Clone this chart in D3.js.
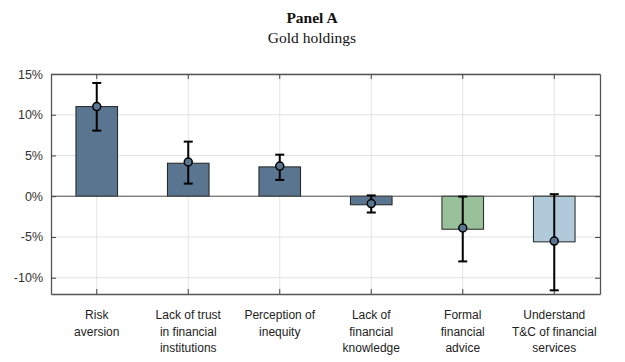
<!DOCTYPE html>
<html>
<head>
<meta charset="utf-8">
<script src="https://cdn.jsdelivr.net/npm/d3@7"></script>
<style>
  body { margin: 0; background: #fff; }
  svg { display: block; }
</style>
</head>
<body>
<div id="chart"></div>
<script>
// chart data (percent)
var categories = [
  ["Risk", "aversion"],
  ["Lack of trust", "in financial", "institutions"],
  ["Perception of", "inequity"],
  ["Lack of", "financial", "knowledge"],
  ["Formal", "financial", "advice"],
  ["Understand", "T&C of financial", "services"]
];
var barValues = [11.0, 4.05, 3.6, -1.05, -4.05, -5.6];
var pointValues = [11.0, 4.2, 3.7, -0.9, -3.9, -5.5];
var errLow = [8.05, 1.55, 2.0, -2.0, -8.0, -11.55];
var errHigh = [13.9, 6.7, 5.1, 0.1, -0.05, 0.25];
var barColors = ["#5a7590", "#5a7590", "#5a7590", "#5a7590", "#98c19a", "#b0cad9"];
var yTicks = [-10, -5, 0, 5, 10, 15];

var width = 625, height = 362;
var margin = { top: 74, right: 25, bottom: 68, left: 51 };
var plotW = width - margin.left - margin.right,
    plotH = height - margin.top - margin.bottom;

var svg = d3.select("#chart").append("svg")
    .attr("width", width)
    .attr("height", height);

// titles
svg.append("text")
    .attr("x", 312).attr("y", 23)
    .attr("text-anchor", "middle")
    .attr("font-family", "Liberation Serif, DejaVu Serif, serif")
    .attr("font-weight", "bold")
    .attr("font-size", "15.5px")
    .attr("fill", "#111")
    .text("Panel A");
svg.append("text")
    .attr("x", 312).attr("y", 43)
    .attr("text-anchor", "middle")
    .attr("font-family", "Liberation Serif, DejaVu Serif, serif")
    .attr("font-size", "15.5px")
    .attr("fill", "#111")
    .text("Gold holdings");

var g = svg.append("g")
    .attr("transform", "translate(" + margin.left + "," + margin.top + ")");

var x = d3.scaleBand()
    .domain(d3.range(categories.length))
    .range([0, plotW])
    .paddingInner(0.545)
    .paddingOuter(0.2725);

var y = d3.scaleLinear()
    .domain([-12, 15])
    .range([plotH, 0]);

var cx = function (i) { return x(i) + x.bandwidth() / 2; };

// gridlines
g.append("g").selectAll("line")
    .data(yTicks)
    .enter().append("line")
    .attr("x1", 0).attr("x2", plotW)
    .attr("y1", function (d) { return y(d); })
    .attr("y2", function (d) { return y(d); })
    .style("stroke", "#e3e3e3");
g.append("g").selectAll("line")
    .data(d3.range(categories.length))
    .enter().append("line")
    .attr("x1", cx).attr("x2", cx)
    .attr("y1", 0).attr("y2", plotH)
    .style("stroke", "#e3e3e3");

// bars
g.append("g").selectAll("rect")
    .data(barValues)
    .enter().append("rect")
    .attr("x", function (d, i) { return x(i); })
    .attr("y", function (d) { return y(Math.max(0, d)); })
    .attr("width", x.bandwidth())
    .attr("height", function (d) { return Math.abs(y(d) - y(0)); })
    .attr("fill", function (d, i) { return barColors[i]; })
    .style("stroke", "#222")
    .style("stroke-width", 1);

// zero line
g.append("line")
    .attr("x1", 0).attr("x2", plotW)
    .attr("y1", y(0)).attr("y2", y(0))
    .style("stroke", "#555");

// axes: ticks inside frame, MATLAB style
var axisL = g.append("g")
    .call(d3.axisLeft(y).tickValues(yTicks).tickFormat(function (d) { return d + "%"; }).tickSizeInner(-5).tickSizeOuter(0).tickPadding(8));
var axisR = g.append("g")
    .attr("transform", "translate(" + plotW + ",0)")
    .call(d3.axisRight(y).tickValues(yTicks).tickFormat("").tickSizeInner(-5).tickSizeOuter(0));
var axisB = g.append("g")
    .attr("transform", "translate(0," + plotH + ")")
    .call(d3.axisBottom(x).tickFormat("").tickSizeInner(-5).tickSizeOuter(0));
var axisT = g.append("g")
    .call(d3.axisTop(x).tickFormat("").tickSizeInner(-5).tickSizeOuter(0));

[axisL, axisR, axisB, axisT].forEach(function (a) {
    a.select(".domain").style("stroke", "#555").style("stroke-width", 1.3);
    a.selectAll(".tick line").style("stroke", "#444");
});
axisL.selectAll("text")
    .style("fill", "#333")
    .attr("font-size", "12.5px")
    .attr("font-family", "Liberation Sans, Arial, sans-serif");

// error bars
var err = g.append("g").selectAll("g")
    .data(pointValues)
    .enter().append("g");
err.append("line")
    .attr("x1", function (d, i) { return cx(i); })
    .attr("x2", function (d, i) { return cx(i); })
    .attr("y1", function (d, i) { return y(errLow[i]); })
    .attr("y2", function (d, i) { return y(errHigh[i]); })
    .style("stroke", "#000").style("stroke-width", 2);
err.append("line")
    .attr("x1", function (d, i) { return cx(i) - 4.5; })
    .attr("x2", function (d, i) { return cx(i) + 4.5; })
    .attr("y1", function (d, i) { return y(errLow[i]); })
    .attr("y2", function (d, i) { return y(errLow[i]); })
    .style("stroke", "#000").style("stroke-width", 2);
err.append("line")
    .attr("x1", function (d, i) { return cx(i) - 4.5; })
    .attr("x2", function (d, i) { return cx(i) + 4.5; })
    .attr("y1", function (d, i) { return y(errHigh[i]); })
    .attr("y2", function (d, i) { return y(errHigh[i]); })
    .style("stroke", "#000").style("stroke-width", 2);
err.append("circle")
    .attr("cx", function (d, i) { return cx(i); })
    .attr("cy", function (d) { return y(d); })
    .attr("r", 4)
    .attr("fill", "#5a7590")
    .style("stroke", "#000")
    .style("stroke-width", 1.5);

// category labels
var labels = g.append("g").selectAll("text")
    .data(categories)
    .enter().append("text")
    .attr("x", function (d, i) { return cx(i); })
    .attr("y", plotH + 25)
    .attr("text-anchor", "middle")
    .attr("font-size", "12px")
    .attr("font-family", "Liberation Sans, Arial, sans-serif")
    .style("fill", "#222");
labels.selectAll("tspan")
    .data(function (d) { return d; })
    .enter().append("tspan")
    .attr("x", function () { return d3.select(this.parentNode).attr("x"); })
    .attr("dy", function (d, j) { return j === 0 ? 0 : 16.5; })
    .text(function (d) { return d; });
</script>
</body>
</html>
